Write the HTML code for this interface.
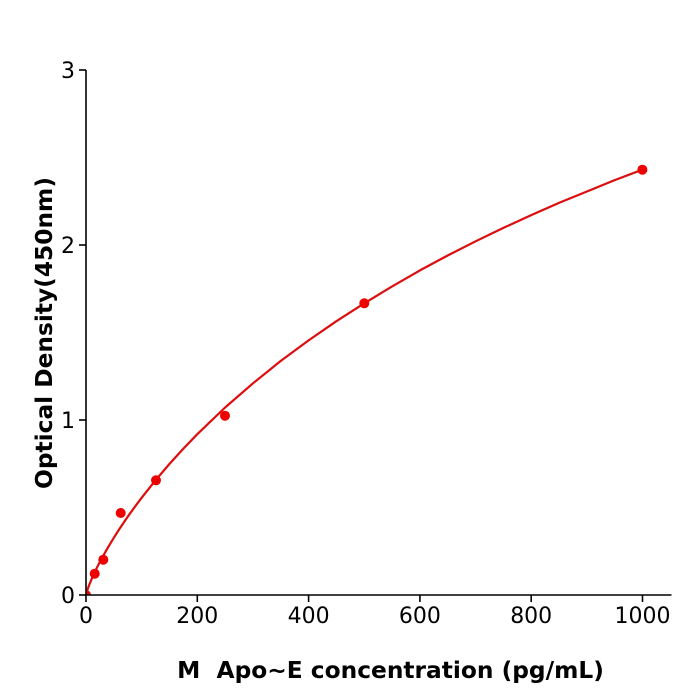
<!DOCTYPE html>
<html>
<head>
<meta charset="utf-8">
<style>
  html, body { margin: 0; padding: 0; background: #fff; }
  svg { display: block; }
  text { font-family: "DejaVu Sans", "Liberation Sans", sans-serif; fill: #000; }
</style>
</head>
<body>
<svg width="700" height="700" viewBox="0 0 700 700" xmlns="http://www.w3.org/2000/svg">
  <defs>
    <clipPath id="plot">
      <rect x="86" y="60" width="590" height="535"/>
    </clipPath>
  </defs>
  <rect width="700" height="700" fill="#fff"/>

  <g clip-path="url(#plot)">
  <!-- curve -->
  <polyline fill="none" stroke="#dd0d0d" stroke-width="2.2" stroke-linejoin="round" stroke-linecap="round"
    points="86,595 86.56,592.6 87.1,590.7 87.67,589.1 88.8,586.0 89.9,583.2 91.6,579.2 94.35,573.0 97.1,567.3 99.9,561.9 102.7,556.7 105.5,551.8 108.3,546.9 113.8,537.8 119.4,529.0 127.7,516.7 136.1,505.1 141.7,497.7 155.6,480.2 169.5,463.9 183.4,448.6 197.3,434.2 225.1,407.5 253.0,383.3 280.8,360.9 308.6,340.4 336.4,321.2 364.3,303.3 392.1,286.4 419.9,270.4 447.7,255.5 475.6,241.3 503.4,227.9 531.2,215.1 559.0,202.9 586.9,191.5 614.7,180.1 642.5,169.6"/>

  <!-- points -->
  <g fill="#ee0000">
    <circle cx="86" cy="595" r="5"/>
    <circle cx="94.7" cy="573.7" r="5"/>
    <circle cx="103.3" cy="559.7" r="5"/>
    <circle cx="120.7" cy="513" r="5"/>
    <circle cx="156" cy="480.3" r="5"/>
    <circle cx="225" cy="415.7" r="5"/>
    <circle cx="364.3" cy="303.3" r="5"/>
    <circle cx="642.4" cy="169.7" r="5"/>
  </g>
  </g>

  <!-- axes -->
  <g stroke="#000" stroke-width="1.6" fill="none">
    <line x1="86" y1="70" x2="86" y2="595.8"/>
    <line x1="85.2" y1="595" x2="671.5" y2="595"/>
    <!-- y ticks -->
    <line x1="79" y1="595" x2="86" y2="595"/>
    <line x1="79" y1="420" x2="86" y2="420"/>
    <line x1="79" y1="245" x2="86" y2="245"/>
    <line x1="79" y1="70" x2="86" y2="70"/>
    <!-- x ticks -->
    <line x1="86" y1="595" x2="86" y2="602"/>
    <line x1="197.3" y1="595" x2="197.3" y2="602"/>
    <line x1="308.6" y1="595" x2="308.6" y2="602"/>
    <line x1="419.9" y1="595" x2="419.9" y2="602"/>
    <line x1="531.2" y1="595" x2="531.2" y2="602"/>
    <line x1="642.5" y1="595" x2="642.5" y2="602"/>
  </g>

  <!-- y tick labels -->
  <g font-size="22" text-anchor="end">
    <text x="75" y="603">0</text>
    <text x="75" y="428">1</text>
    <text x="75" y="253">2</text>
    <text x="75" y="78">3</text>
  </g>

  <!-- x tick labels -->
  <g font-size="22" text-anchor="middle">
    <text x="86" y="623">0</text>
    <text x="197.3" y="623">200</text>
    <text x="308.6" y="623">400</text>
    <text x="419.9" y="623">600</text>
    <text x="531.2" y="623">800</text>
    <text x="642.5" y="623">1000</text>
  </g>

  <!-- axis labels -->
  <text x="390.5" y="678" font-size="23.3" font-weight="bold" text-anchor="middle" xml:space="preserve">M  Apo~E concentration (pg/mL)</text>
  <text transform="translate(52,333) rotate(-90)" font-size="23.3" font-weight="bold" text-anchor="middle">Optical Density(450nm)</text>
</svg>
</body>
</html>
